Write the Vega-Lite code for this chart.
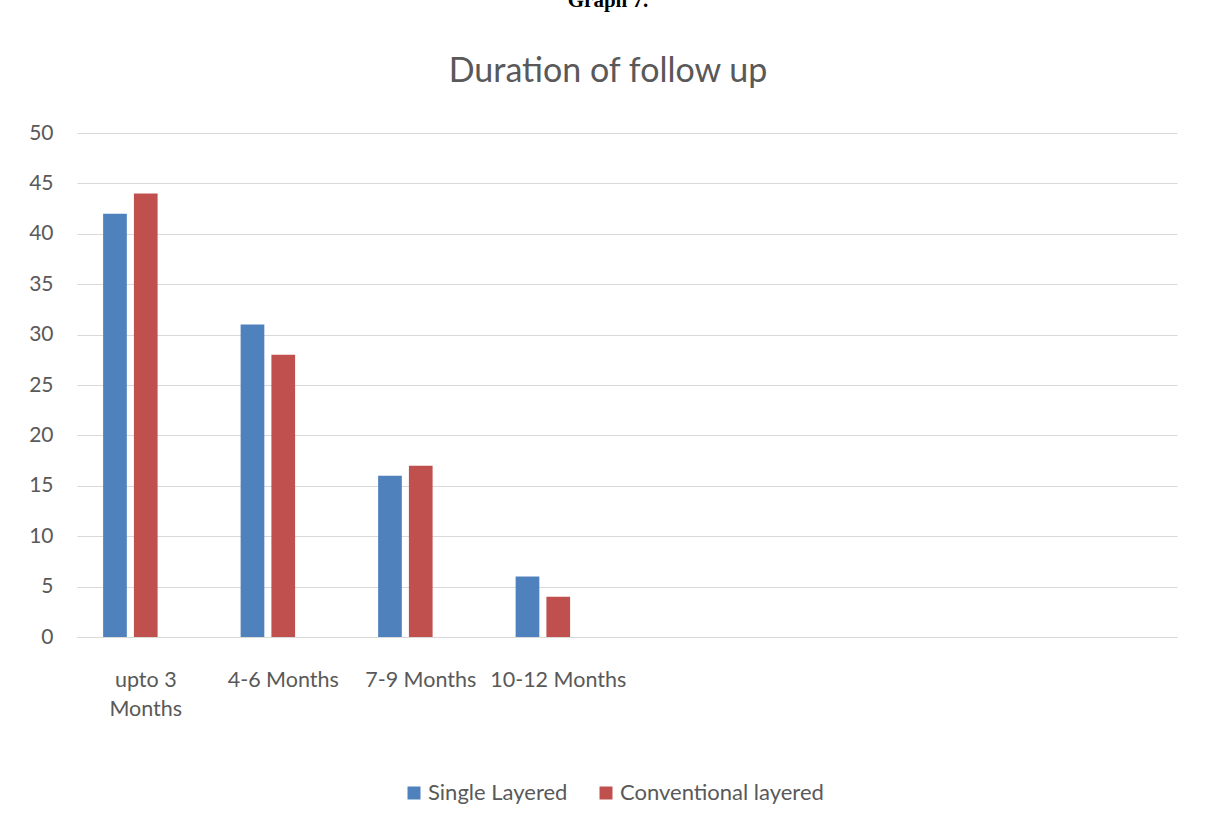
{
  "$schema": "https://vega.github.io/schema/vega-lite/v6.json",
  "width": 1100,
  "height": 504,
  "autosize": "none",
  "padding": {"left": 77, "top": 133, "right": 30, "bottom": 188},
  "background": "white",
  "title": {
    "text": "Graph 7.",
    "subtitle": "Duration of follow up",
    "font": "Liberation Serif",
    "fontWeight": "bold",
    "fontSize": 21,
    "color": "black",
    "subtitleFont": "Lato",
    "subtitleFontSize": 34,
    "subtitleColor": "#595959",
    "subtitlePadding": 44,
    "anchor": "middle",
    "dx": -19,
    "offset": 33
  },
  "data": {
    "values": [
      {"duration": "upto 3 Months", "group": "Single Layered", "count": 42},
      {"duration": "upto 3 Months", "group": "Conventional layered", "count": 44},
      {"duration": "4-6 Months", "group": "Single Layered", "count": 31},
      {"duration": "4-6 Months", "group": "Conventional layered", "count": 28},
      {"duration": "7-9 Months", "group": "Single Layered", "count": 16},
      {"duration": "7-9 Months", "group": "Conventional layered", "count": 17},
      {"duration": "10-12 Months", "group": "Single Layered", "count": 6},
      {"duration": "10-12 Months", "group": "Conventional layered", "count": 4}
    ]
  },
  "mark": {"type": "bar"},
  "encoding": {
    "x": {
      "field": "duration",
      "type": "nominal",
      "sort": null,
      "scale": {
        "domain": ["upto 3 Months", "4-6 Months", "7-9 Months", "10-12 Months", " ", "  ", "   ", "    "],
        "paddingInner": 0.38,
        "paddingOuter": 0.19
      },
      "axis": {
        "title": null,
        "labelAngle": 0,
        "labelFont": "Lato",
        "labelFontSize": 21.5,
        "labelColor": "#595959",
        "labelPadding": 32,
        "labelLineHeight": 29,
        "labelLimit": 200,
        "labelExpr": "datum.value == 'upto 3 Months' ? ['upto 3', 'Months'] : datum.value",
        "ticks": false,
        "domainColor": "#d9d9d9",
        "grid": false
      }
    },
    "xOffset": {
      "field": "group",
      "type": "nominal",
      "scale": {
        "domain": ["Single Layered", "Conventional layered", "Series 3"],
        "paddingInner": 0.23,
        "paddingOuter": 0
      }
    },
    "y": {
      "field": "count",
      "type": "quantitative",
      "scale": {"domain": [0, 50], "nice": false},
      "axis": {
        "title": null,
        "values": [0, 5, 10, 15, 20, 25, 30, 35, 40, 45, 50],
        "grid": true,
        "gridColor": "#d9d9d9",
        "domain": false,
        "ticks": false,
        "labelFont": "Lato",
        "labelFontSize": 21,
        "labelColor": "#595959",
        "labelPadding": 24
      }
    },
    "color": {
      "field": "group",
      "type": "nominal",
      "scale": {
        "domain": ["Single Layered", "Conventional layered"],
        "range": ["#4F81BD", "#C0504D"]
      },
      "legend": {
        "title": null,
        "orient": "none",
        "direction": "horizontal",
        "legendX": 326,
        "legendY": 649,
        "symbolType": "square",
        "symbolSize": 169,
        "symbolStrokeWidth": 0,
        "labelFont": "Lato",
        "labelFontSize": 22,
        "labelColor": "#595959",
        "labelLimit": 400,
        "labelOffset": 3,
        "columnPadding": 27
      }
    }
  },
  "config": {"view": {"stroke": null}}
}
